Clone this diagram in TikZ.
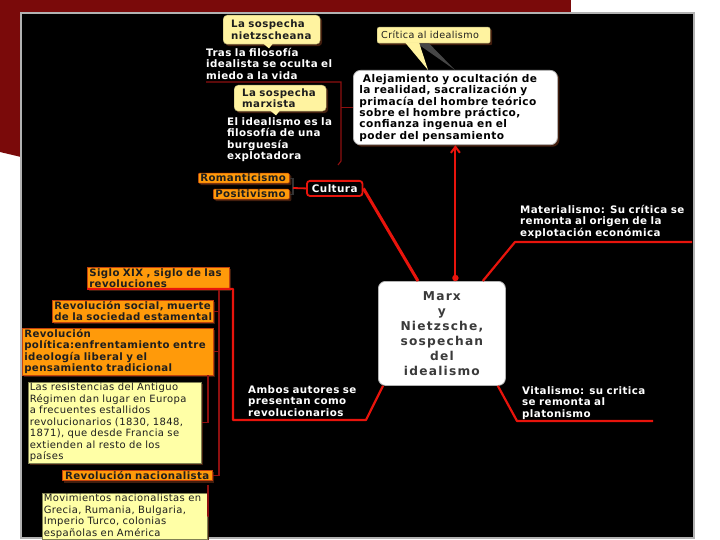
\documentclass[tikz,border=0pt]{standalone}
\usepackage{fontspec}
\setmainfont{DejaVu Sans}[LetterSpace=4]
\newfontfamily\centrefont{DejaVu Sans}[LetterSpace=10]
\usepackage{xcolor}
\definecolor{framered}{HTML}{7A0A0A}
\definecolor{branchred}{HTML}{E8140C}
\definecolor{twigred}{HTML}{8E1010}
\definecolor{callfill}{HTML}{FFF3A0}
\definecolor{notefill}{HTML}{FFFFA6}
\definecolor{orangefill}{HTML}{FF9A0A}
\definecolor{orangeedge}{HTML}{C2410C}
\definecolor{shadowbrown}{HTML}{4A2210}
\definecolor{boxtext}{HTML}{1E1E1E}
\definecolor{centretext}{HTML}{3A3A3A}
\usepackage{tikz}
\usetikzlibrary{positioning,arrows.meta,calc,shadows}
\tikzset{
    callout/.style={
        rectangle,
        anchor=north west,
        fill=callfill,
        draw=callfill!70!black,
        text=boxtext,
        rounded corners=4pt,
        align=left,
        inner xsep=8pt,
        inner ysep=2pt,
        font=\bfseries\fontsize{10.2}{11.5}\selectfont,
        drop shadow={fill=shadowbrown, opacity=0.9, shadow xshift=2pt, shadow yshift=-2pt},
    },
    plain/.style={
        anchor=north west,
        text=white,
        align=left,
        inner sep=0pt,
        font=\bfseries\fontsize{10.3}{11.5}\selectfont,
    },
    orangebox/.style={
        rectangle,
        anchor=north west,
        fill=orangefill,
        draw=orangeedge,
        text=boxtext,
        align=left,
        inner xsep=2pt,
        inner ysep=1pt,
        line width=0.5pt,
        font=\bfseries\fontsize{10.2}{11.5}\selectfont,
        drop shadow={fill=shadowbrown, opacity=0.9, shadow xshift=2pt, shadow yshift=-2pt},
    },
    notebox/.style={
        rectangle,
        anchor=north west,
        fill=notefill,
        draw=notefill!50!black,
        text=boxtext,
        align=left,
        inner xsep=1.5pt,
        inner ysep=1pt,
        line width=0.5pt,
        font=\fontsize{10}{11.5}\selectfont,
        drop shadow={fill=shadowbrown, opacity=0.9, shadow xshift=2pt, shadow yshift=-2pt},
    },
    whitebox/.style={
        rectangle,
        anchor=north west,
        fill=white,
        draw=gray!60,
        text=black,
        rounded corners=7pt,
        line width=0.8pt,
    },
    branch/.style={
        draw=branchred,
        line width=2.2pt,
        line join=round,
    },
    twig/.style={
        draw=twigred,
        line width=1.1pt,
    },
}
\begin{document}
\begin{tikzpicture}[x=1pt, y=-1pt]
    \useasboundingbox (0,0) rectangle (720,540);
    % Backdrop
    \fill[white] (0,0) rectangle (720,540);
    \fill[framered] (0,0) rectangle (571,13);
    \fill[framered] (0,0) -- (21,0) -- (21,157) -- (0,152) -- cycle;
    \fill[black] (21,13) rectangle (694,538);
    \draw[gray!60, line width=1.2pt] (21,13) rectangle (694,538);

    % The two suspicions
    \node[callout, text width=81pt, minimum height=29pt] (nietz) at (223,15) {La sospecha\\nietzscheana};
    \node[plain, text width=135pt] (tras) at (206,48) {Tras la filosofía\\idealista se oculta el\\miedo a la vida};
    \node[callout, text width=76pt, minimum height=26pt] (marx) at (234,85) {La sospecha\\marxista};
    \node[plain, text width=115pt] (burg) at (227,117) {El idealismo es la\\filosofía de una\\burguesía\\explotadora};
    \fill[callfill] ($(nietz.south west)+(40,-1)$) -- ++(10,0) -- ++(-4,5) -- cycle;
    \fill[callfill] ($(marx.south west)+(36,-1)$) -- ++(10,0) -- ++(-4,5) -- cycle;

    % Criticism of idealism
    \node[whitebox, minimum width=204pt, minimum height=73pt, text width=192pt, align=left,
          font=\bfseries\fontsize{10.6}{11.4}\selectfont,
          drop shadow={fill=shadowbrown, opacity=0.9, shadow xshift=2pt, shadow yshift=-2pt}] (aleja) at (353,70)
        {\ Alejamiento y ocultación de\\la realidad, sacralización y\\primacía del hombre teórico\\sobre el hombre práctico,\\confianza ingenua en el\\poder del pensamiento};
    \node[callout, text width=105pt, inner xsep=4pt, minimum height=16pt, rounded corners=2pt,
          font=\fontsize{9.6}{10}\selectfont] (critica) at (377,27) {Crítica al idealismo};
    \fill[gray!55!black] ($(critica.south west)+(40,0)$) -- ($(aleja.north west)+(102,0)$) -- ($(critica.south west)+(52,0)$) -- cycle;
    \fill[callfill] ($(critica.south west)+(28,-1)$) -- ($(aleja.north west)+(75,0)$) -- ($(critica.south west)+(42,-1)$) -- cycle;

    % Bracket of the suspicions
    \coordinate (brktop) at (341,82);
    \coordinate (brkbot) at (341,161);
    \draw[twig] (tras.south west |- brktop) -- (brktop) -- (brkbot) -- ++(-3,4);
    \draw[twig] (aleja.west -| brktop) -- (aleja.west);

    % Culture
    \node[orangebox, text width=87pt, rounded corners=1pt] (roman) at (198,173) {Romanticismo};
    \node[orangebox, text width=72pt, rounded corners=1pt] (posit) at (213,189) {Positivismo};
    \node[rectangle, anchor=north west, fill=black, draw=branchred, line width=1.8pt, rounded corners=3pt,
          text=white, inner xsep=5pt, inner ysep=3.5pt, font=\bfseries\fontsize{10.4}{11.5}\selectfont] (cultura) at (306,180) {Cultura};
    \coordinate (cultbrk) at (293,188);
    \draw[twig, draw=gray!40!black] (roman.east) -| (cultbrk) |- (posit.east);
    \draw[branch, line width=1.8pt] (cultbrk) -- (cultura.west);

    % Centre
    \node[whitebox, minimum width=127pt, minimum height=104pt, align=center, text=centretext,
          font=\centrefont\bfseries\fontsize{12.2}{15}\selectfont] (centre) at (378,281)
        {Marx\\y\\Nietzsche,\\sospechan\\del\\idealismo};

    \draw[branch, line width=3pt] (cultura.east) -- ($(centre.north west)+(40,0)$);
    \draw[branch, line width=2pt, -{Straight Barb[length=6pt,width=9pt]}] (aleja.south |- centre.north) -- (aleja.south);
    \fill[branchred] (aleja.south |- centre.north) ++(0,-3) circle (3.2pt);

    % Materialism and vitalism
    \node[plain, text width=180pt] (mater) at (520,205) {Materialismo: Su crítica se\\remonta al origen de la\\explotación económica};
    \node[plain, text width=140pt] (vital) at (522,386) {Vitalismo: su critica\\se remonta al\\platonismo};
    \coordinate (materfoot) at (515,242);
    \coordinate (vitalfoot) at (517,421);
    \draw[branch] ($(centre.north east)+(-23,0)$) -- (materfoot) -- (materfoot -| 692,0);
    \draw[branch] ($(centre.south east)+(-8,0)$) -- (vitalfoot) -- ++(136,0);

    % Revolutions
    \node[plain, text width=120pt] (ambos) at (248,385) {Ambos autores se\\presentan como\\revolucionarios};
    \node[orangebox, text width=138pt] (siglo) at (87,267) {Siglo XIX , siglo de las\\revoluciones};
    \node[orangebox, text width=157pt] (social) at (52,300) {Revolución social, muerte\\de la sociedad estamental};
    \node[orangebox, text width=187pt] (politica) at (22,328) {Revolución\\política:enfrentamiento entre\\ideología liberal y el\\pensamiento tradicional};
    \node[notebox, text width=170pt] (resist) at (28,382) {Las resistencias del Antiguo\\Régimen dan lugar en Europa\\a frecuentes estallidos\\revolucionarios (1830, 1848,\\1871), que desde Francia se\\extienden al resto de los\\países};
    \node[orangebox, text width=146pt, align=center] (nacional) at (62,470) {Revolución nacionalista};
    \node[notebox, text width=162pt] (movim) at (42,493) {Movimientos nacionalistas en\\Grecia, Rumania, Bulgaria,\\Imperio Turco, colonias\\españolas en América};

    \coordinate (ambosfoot) at (366,420);
    \coordinate (sigloturn) at (233,420);
    \draw[branch] ($(centre.south west)+(5,0)$) -- (ambosfoot) -- (sigloturn) |- (siglo.south west);

    \coordinate (siglobrk) at (219,290);
    \draw[twig] (siglobrk) -- (siglobrk |- nacional.east) -- (nacional.east);
    \draw[twig] (social.east) -- (social.east -| siglobrk);
    \draw[twig] (politica.east) -- (politica.east -| siglobrk);
    \coordinate (polbrk) at (208,375);
    \draw[twig] (polbrk) |- (resist.east);
    \coordinate (nacbrk) at (208,485);
    \draw[twig] (nacbrk) |- (movim.east);
\end{tikzpicture}
\end{document}
